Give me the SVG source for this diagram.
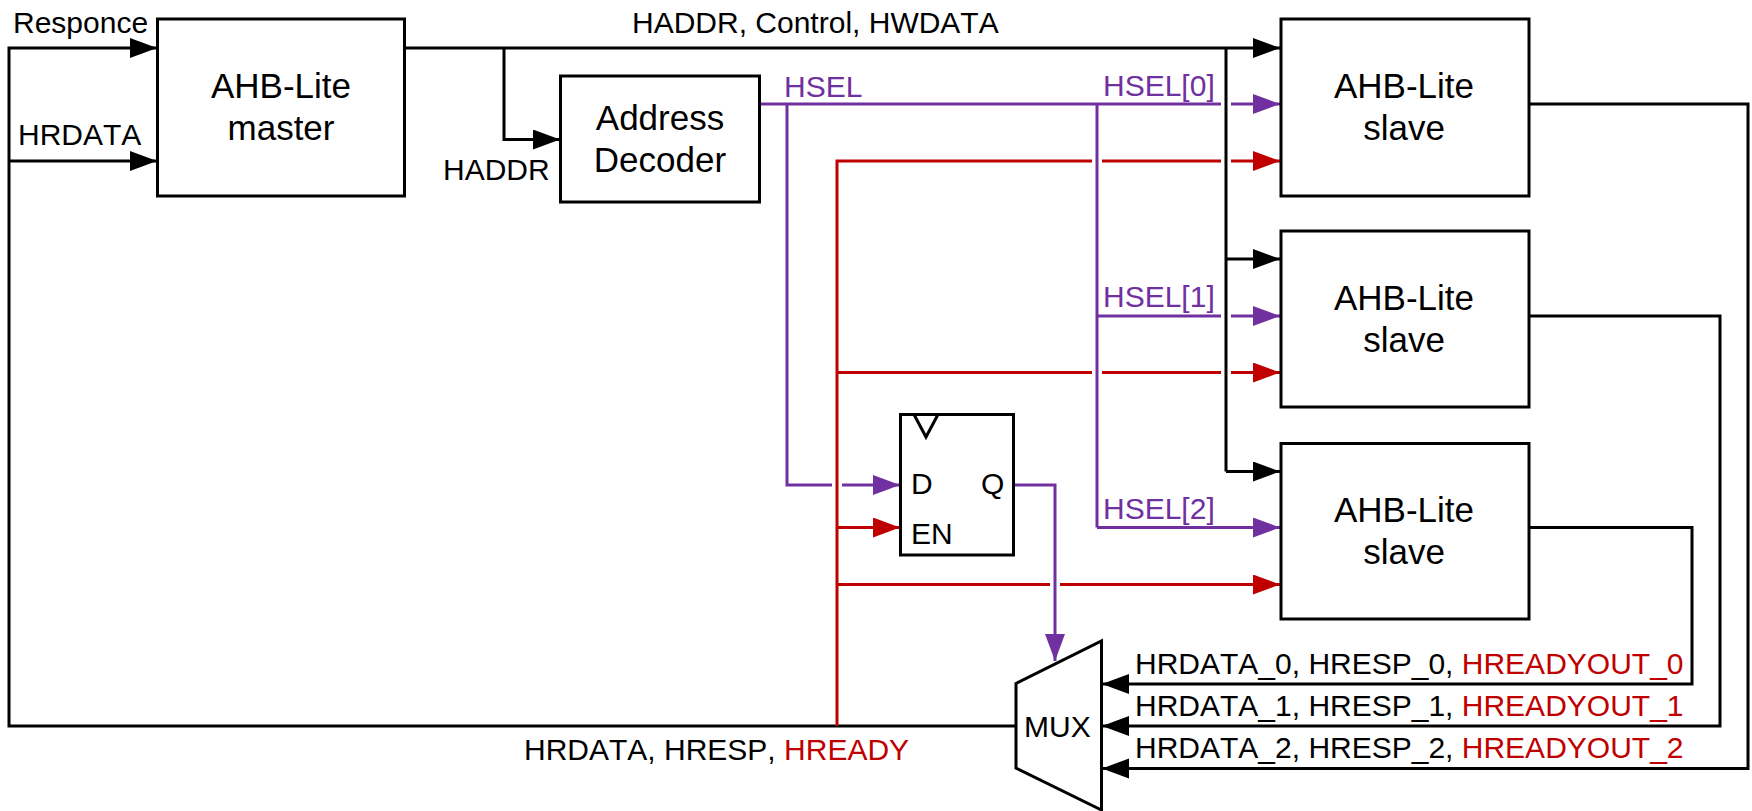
<svg xmlns="http://www.w3.org/2000/svg" width="1752" height="811" viewBox="0 0 1752 811">
<style>
text{font-family:"Liberation Sans",Arial,sans-serif;font-size:30px;fill:#000;font-kerning:none}
.big{font-size:35px;text-anchor:middle}
.box{fill:#fff;stroke:#000;stroke-width:3;stroke-linejoin:miter}
.k,.p,.r{fill:none;stroke-width:3;stroke-linejoin:miter}
.k{stroke:#000}.p{stroke:#7030a0}.r{stroke:#c00000}
.pt{fill:#7030a0}.rt{fill:#c00000}
.ak{marker-end:url(#ak)}.ap{marker-end:url(#ap)}.ar{marker-end:url(#ar)}
</style>
<defs>
<marker id="ak" markerUnits="userSpaceOnUse" markerWidth="28" markerHeight="22" refX="27" refY="10" orient="auto"><path d="M0 0L27 10L0 20z" fill="#000"/></marker>
<marker id="ap" markerUnits="userSpaceOnUse" markerWidth="28" markerHeight="22" refX="27" refY="10" orient="auto"><path d="M0 0L27 10L0 20z" fill="#7030a0"/></marker>
<marker id="ar" markerUnits="userSpaceOnUse" markerWidth="28" markerHeight="22" refX="27" refY="10" orient="auto"><path d="M0 0L27 10L0 20z" fill="#c00000"/></marker>
</defs>
<rect width="1752" height="811" fill="#fff"/>
<g id="connectors">
<path class="k ak" d="M1015 726H9V48H157"/>
<path class="k ak" d="M9 161H157"/>
<path class="k ak" d="M404 48H1280"/>
<path class="k ak" d="M504 48V139.500H560"/>
<path class="k" d="M1226 48V471.500"/>
<path class="k ak" d="M1226 259H1280"/>
<path class="k ak" d="M1226 471.500H1280"/>
<path class="p" d="M759 104H1221"/>
<path class="p ap" d="M1231 104H1280"/>
<path class="p" d="M787 104V485H832"/>
<path class="p ap" d="M842 485H900"/>
<path class="p" d="M1097 104V527.500"/>
<path class="p" d="M1097 316H1221"/>
<path class="p ap" d="M1231 316H1280"/>
<path class="p ap" d="M1097 527.500H1280"/>
<path class="p ap" d="M1013 485H1055V661"/>
<path class="r" d="M837 726V161H1092"/>
<path class="r" d="M1102 161H1221"/>
<path class="r ar" d="M1231 161H1280"/>
<path class="r" d="M837 372.500H1092"/>
<path class="r" d="M1102 372.500H1221"/>
<path class="r ar" d="M1231 372.500H1280"/>
<path class="r ar" d="M837 527.500H900"/>
<path class="r" d="M837 584.500H1050"/>
<path class="r ar" d="M1060 584.500H1280"/>
<path class="k ak" d="M1528 104H1748V768.500H1102"/>
<path class="k ak" d="M1528 316H1720V726H1102"/>
<path class="k ak" d="M1528 527.500H1692V684H1102"/>
</g>
<g id="master"><rect class="box" x="157.500" y="19" width="247" height="177"/><text class="big" x="281" y="98">AHB-Lite</text><text class="big" x="281" y="140">master</text></g>
<g id="decoder"><rect class="box" x="560.500" y="76" width="199" height="126"/><text class="big" x="660" y="130">Address</text><text class="big" x="660" y="172">Decoder</text></g>
<g id="slave0"><rect class="box" x="1281" y="19" width="248" height="177"/><text class="big" x="1404" y="98">AHB-Lite</text><text class="big" x="1404" y="140">slave</text></g>
<g id="slave1"><rect class="box" x="1281" y="231" width="248" height="176"/><text class="big" x="1404" y="310">AHB-Lite</text><text class="big" x="1404" y="352">slave</text></g>
<g id="slave2"><rect class="box" x="1281" y="443.500" width="248" height="175.500"/><text class="big" x="1404" y="522">AHB-Lite</text><text class="big" x="1404" y="564">slave</text></g>
<g id="flipflop"><rect class="box" x="900.500" y="414.500" width="113" height="140.500"/><path class="k" d="M914 414.500L926 437L938 414.500"/><text x="911" y="494">D</text><text x="981" y="494">Q</text><text x="911" y="544">EN</text></g>
<g id="mux"><path class="box" d="M1016 683.500L1101.500 641V810L1016 768z"/><text x="1024" y="737">MUX</text></g>
<g id="labels">
<text x="13" y="33">Responce</text>
<text x="18" y="145">HRDATA</text>
<text x="443" y="180">HADDR</text>
<text x="632" y="33">HADDR, Control, HWDATA</text>
<text class="pt" x="784" y="97">HSEL</text>
<text class="pt" x="1103" y="96">HSEL[0]</text>
<text class="pt" x="1103" y="307">HSEL[1]</text>
<text class="pt" x="1103" y="519">HSEL[2]</text>
<text x="524" y="760">HRDATA, HRESP, <tspan class="rt">HREADY</tspan></text>
<text x="1135" y="674">HRDATA_0, HRESP_0, <tspan class="rt">HREADYOUT_0</tspan></text>
<text x="1135" y="716">HRDATA_1, HRESP_1, <tspan class="rt">HREADYOUT_1</tspan></text>
<text x="1135" y="758">HRDATA_2, HRESP_2, <tspan class="rt">HREADYOUT_2</tspan></text>
</g>
</svg>
